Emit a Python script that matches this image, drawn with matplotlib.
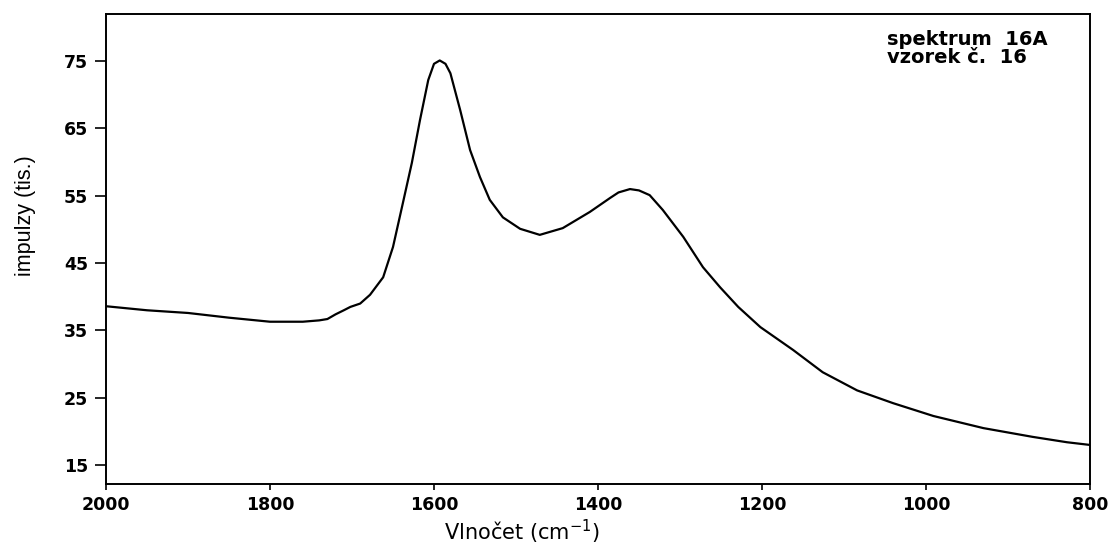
import matplotlib
matplotlib.use("Agg")
import matplotlib.pyplot as plt

wavenumber = [2000, 1950, 1900, 1850, 1800, 1760, 1740, 1730, 1720, 1710, 1702, 1690,
              1678, 1662, 1650, 1638, 1627, 1617, 1607, 1600, 1593, 1586, 1580, 1568,
              1556, 1544, 1532, 1516, 1495, 1471, 1443, 1410, 1385, 1375, 1361, 1350,
              1337, 1321, 1296, 1272, 1251, 1229, 1202, 1162, 1126, 1084, 1040, 991,
              930, 870, 828, 800]
intensity = [38.6, 38.0, 37.6, 36.9, 36.3, 36.3, 36.5, 36.7, 37.4, 38.0, 38.5, 39.0,
             40.3, 42.9, 47.4, 53.9, 59.9, 66.3, 72.2, 74.6, 75.1, 74.6, 73.2, 67.7,
             61.8, 57.8, 54.4, 51.8, 50.1, 49.2, 50.2, 52.6, 54.7, 55.5, 56.0, 55.8,
             55.1, 52.9, 48.9, 44.4, 41.4, 38.5, 35.5, 32.1, 28.8, 26.1, 24.2, 22.3,
             20.5, 19.2, 18.4, 18.0]

x_ticks = [2000, 1800, 1600, 1400, 1200, 1000, 800]
y_ticks = [15, 25, 35, 45, 55, 65, 75]

plt.rcParams['font.family'] = ['DejaVu Sans']

W, H = 1117, 551
fig = plt.figure(figsize=(W / 100, H / 100), dpi=100)
ax = fig.add_axes([106 / W, 1 - 484 / H, (1090 - 106) / W, (484 - 14) / H])
ax.plot(wavenumber, intensity, color='black', lw=1.6)
ax.set_xlim(2000, 800)
ax.set_ylim(12.2, 82)
ax.set_xticks(x_ticks)
ax.set_yticks(y_ticks)
ax.set_xticklabels([str(t) for t in x_ticks], fontsize=12.5, fontweight='bold')
ax.set_yticklabels([str(t) for t in y_ticks], fontsize=12.5, fontweight='bold')
ax.tick_params(axis='y', direction='out', length=8, width=1.2, pad=5)
ax.tick_params(axis='x', direction='out', length=4.5, width=1.2, pad=4)
ax.tick_params(top=False, right=False)
for s in ax.spines.values():
    s.set_linewidth(1.4)

fig.text(522 / W, 1 - 540 / H, 'Vlnočet (cm$^{-1}$)', fontsize=15,
         ha='center', va='baseline')
fig.text(26 / W, 1 - 216 / H, 'impulzy (tis.)', fontsize=15.5, rotation=90,
         ha='center', va='center',
         family=['Liberation Sans Narrow', 'Liberation Sans', 'DejaVu Sans'])
fig.text(887 / W, 1 - 45 / H, 'spektrum  16A', fontsize=14, fontweight='bold',
         ha='left', va='baseline')
fig.text(887 / W, 1 - 63 / H, 'vzorek č.  16', fontsize=14, fontweight='bold',
         ha='left', va='baseline')

fig.savefig('out.png', dpi=100)
